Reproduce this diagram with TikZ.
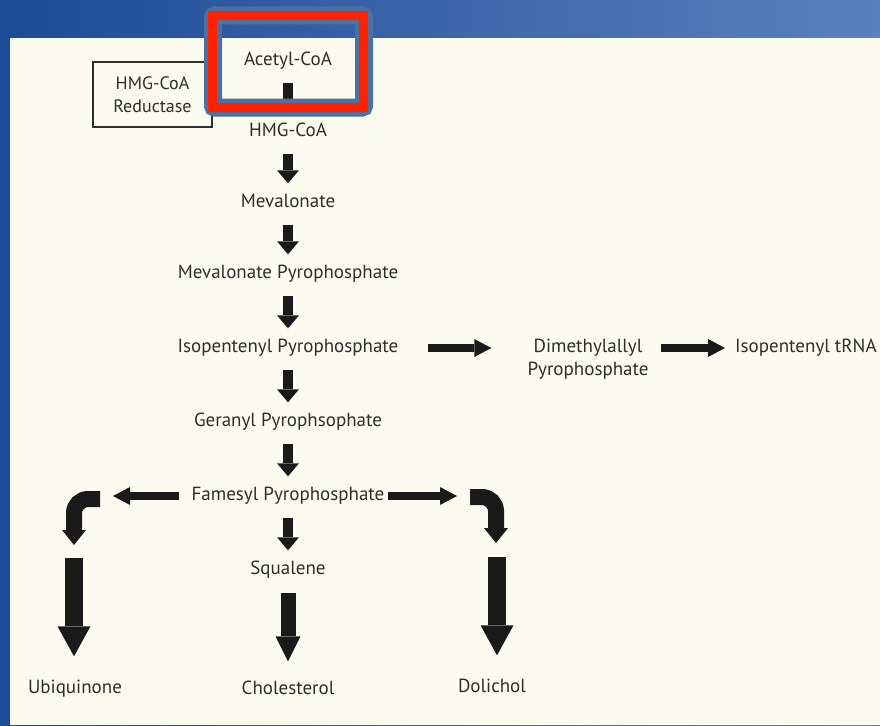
\documentclass[tikz,border=0pt]{standalone}
\usepackage{fontspec}
\setmainfont{PT Sans}
\usetikzlibrary{positioning,arrows.meta}

\definecolor{slidedark}{HTML}{1C4C96}
\definecolor{slidelight}{HTML}{5B80BD}
\definecolor{paper}{HTML}{FBFBEF}
\definecolor{ink}{HTML}{2E2E2E}
\definecolor{arrowink}{HTML}{1A1A1A}
\definecolor{framered}{HTML}{FF2200}
\definecolor{frameblue}{HTML}{4F6F9F}

\begin{document}
\begin{tikzpicture}[
        x=1pt, y=-1pt,
        node distance=71pt, % Distance between metabolites
        metab/.style={text=ink, font=\fontsize{19}{23}\selectfont, align=center, inner sep=2pt, text height=13pt, text depth=4pt}, % Metabolite text
        enzyme/.style={draw=ink, line width=1.2pt, text=ink, font=\fontsize{18}{23}\selectfont, align=center, minimum width=119pt, minimum height=65pt}, % Enzyme box
        down/.style={arrowink, line width=10pt, -{Triangle[length=13pt, width=22pt, line width=0pt]}, shorten <=11pt, shorten >=9pt}, % Small block arrow
        side/.style={arrowink, line width=8pt, -{Triangle[length=17pt, width=18pt, line width=0pt]}}, % Side block arrow
        bent/.style={arrowink, line width=16pt, rounded corners=14pt, -{Triangle[length=15pt, width=24pt, line width=0pt]}}, % Bent block arrow
        fat/.style={arrowink, line width=18pt, -{Triangle[length=30pt, width=33pt, line width=0pt]}} % Big block arrow
        ]

        % Slide background
        \useasboundingbox (0,0) rectangle (880,725);
        \shade[left color=slidedark, right color=slidelight] (0,0) rectangle (880,725);
        \fill[paper] (10,38) rectangle (880,725);

        % Main pathway
        \node (acetyl) [metab] at (288,61) {Acetyl-CoA};
        \node (hmgcoa) [metab, below of=acetyl] {HMG-CoA};
        \node (mevalonate) [metab, below of=hmgcoa] {Mevalonate};
        \node (mevpp) [metab, below of=mevalonate] {Mevalonate Pyrophosphate};
        \node (ipp) [metab, below of=mevpp, node distance=74pt] {Isopentenyl Pyrophosphate};
        \node (gpp) [metab, below of=ipp, node distance=74pt] {Geranyl Pyrophsophate};
        \node (fpp) [metab, below of=gpp, node distance=74pt] {Famesyl Pyrophosphate};
        \node (squalene) [metab, below of=fpp, node distance=74pt] {Squalene};
        \node (cholesterol) [metab, below of=squalene, node distance=120pt] {Cholesterol};

        % Side branches
        \node (reductase) [enzyme] at (152.5,94.5) {HMG-CoA\\Reductase};
        \node (dmapp) [metab, text height=, text depth=] at (588,359) {Dimethylallyl\\Pyrophosphate};
        \node (trna) [metab, anchor=west] at (733,348) {Isopentenyl tRNA};
        \node (ubiquinone) [metab] at (75,689) {Ubiquinone};
        \node (dolichol) [metab] at (492,688) {Dolichol};

        % Free ends of the bent arrows
        \coordinate (ubiTop) at (100,499);
        \coordinate (ubiTurn) at (74,545);
        \coordinate (ubiStem) at (74,558);
        \coordinate (dolTop) at (470,497);
        \coordinate (dolTurn) at (496,543);
        \coordinate (dolStem) at (497,557);

        % Draw arrows
        \draw[down] (acetyl) -- (hmgcoa);
        \draw[down] (hmgcoa) -- (mevalonate);
        \draw[down] (mevalonate) -- (mevpp);
        \draw[down] (mevpp) -- (ipp);
        \draw[down] (ipp) -- (gpp);
        \draw[down] (gpp) -- (fpp);
        \draw[down] (fpp) -- (squalene);
        \draw[fat, line width=15pt, -{Triangle[length=25pt, width=25pt, line width=0pt]}, shorten <=12pt, shorten >=18pt] (squalene) -- (cholesterol);

        \draw[side, shorten <=27pt, shorten >=34pt] (ipp.east) -- (ipp.east -| dmapp.west);
        \draw[side, shorten <=10pt, shorten >=8pt] (dmapp.east |- trna.west) -- (trna.west);

        \draw[side, shorten <=10pt, shorten >=13pt] (fpp.west) -- (fpp.west -| ubiTop);
        \draw[side, shorten <=1pt, shorten >=13pt] (fpp.east) -- (fpp.east -| dolTop);

        \draw[bent] (ubiTop) -| (ubiTurn);
        \draw[bent] (dolTop) -| (dolTurn);
        \draw[fat, shorten >=22pt] (ubiStem) -- (ubiStem |- ubiquinone.north);
        \draw[fat, shorten >=22pt] (dolStem) -- (dolStem |- dolichol.north);

        % Highlight frame
        \draw[frameblue, line width=18pt, rounded corners=2pt] (213,15.5) rectangle (364,107.5);
        \draw[framered, line width=9pt] (212.5,15.5) rectangle (363.5,107.5);

    \end{tikzpicture}
\end{document}
